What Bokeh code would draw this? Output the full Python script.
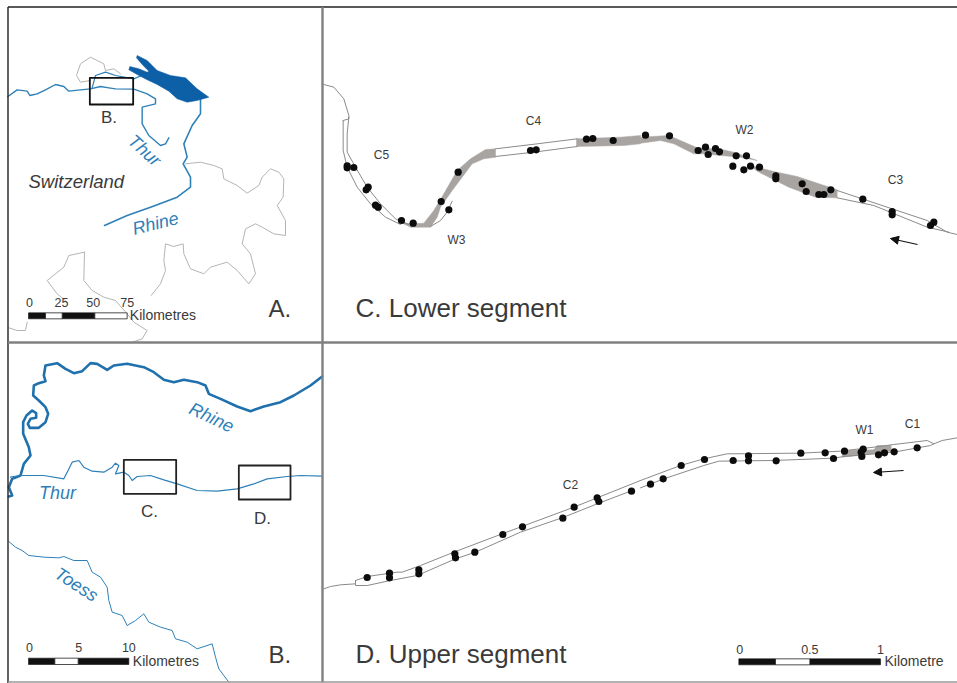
from bokeh.plotting import figure
from bokeh.embed import file_html
from bokeh.resources import INLINE
from bokeh.models import Range1d, Arrow, NormalHead
from bokeh.core.properties import value
from math import radians

A_ORIGIN = (0, 0)
B_ORIGIN = (0, 340)
C_ORIGIN = (320, 70)
C2_ORIGIN = (640, 110)
D_ORIGIN = (320, 480)
D2_ORIGIN = (640, 410)
S_ORIGIN = (700, 630)

a_thur = [(22,288),(50,268),(80,272),(88,285),(110,280),(135,268),(165,252),(190,258),(205,272),(240,268),(270,265),(300,258),(325,262),(345,265),(400,266),(440,280),(465,295),(465,310),(425,320),(425,370),(445,405),(480,435),(495,430),(505,412)]
a_rhine = [(275,262),(285,225),(315,215),(345,225),(400,235),(430,222),(455,228)]
a_rhine2 = [(600,295),(600,340),(575,375),(550,430),(560,470),(548,490),(570,530),(570,560),(530,590),(450,620),(380,645),(312,675)]
a_lake = [(410,165),(440,180),(470,210),(510,225),(555,232),(590,265),(625,290),(590,300),(560,305),(530,295),(505,272),(470,252),(440,238),(410,222),(385,208),(388,198),(415,205),(440,215),(445,212),(425,192),(408,172)]
a_border1 = [(270,240),(240,245),(228,225),(240,190),(270,170),(290,180),(310,190),(315,210),(340,205),(360,220)]
a_border2 = [(555,490),(600,485),(640,495),(665,505),(670,535),(710,555),(740,578),(775,555),(785,530),(810,505),(835,515),(850,535),(848,590),(830,615),(855,660),(855,705),(820,700),(785,680),(765,670),(735,685),(725,730),(750,760),(765,820),(745,850),(710,810),(680,785),(630,800),(610,820),(570,805),(550,760),(548,730),(520,738),(495,730),(490,780),(495,810),(480,850),(452,885)]
a_border3 = [(252,755),(205,765),(190,800),(140,840),(170,880),(200,905)]
a_border4 = [(252,755),(250,840),(275,870),(310,890),(345,900),(380,940),(400,965),(440,990),(425,1015),(395,1025)]
a_border5 = [(25,982),(50,990),(75,990),(80,965)]
a_box = [(268,232),(398,232),(398,312),(268,312),(268,232)]

b_rhine = [(965,108),(930,135),(880,165),(840,185),(790,198),(750,212),(710,198),(660,175),(625,160),(615,135),(590,125),(550,118),(520,125),(490,118),(460,95),(430,80),(380,70),(340,75),(320,88),(290,70),(270,68),(245,92),(220,98),(195,85),(170,68),(135,75),(130,105),(135,122),(115,128),(100,135),(98,165),(115,180),(135,200),(143,220),(135,245),(115,262),(88,262),(82,250),(90,235),(107,232),(107,218),(95,210),(78,225),(68,245),(68,280),(85,320),(90,345),(70,370),(60,405),(35,415),(25,440),(35,465),(25,468)]
b_thur = [(30,410),(60,405),(130,405),(190,415),(200,395),(215,365),(235,360),(250,380),(275,392),(310,395),(335,380),(345,368),(355,375),(345,400),(370,395),(385,405),(395,420),(410,408),(450,405),(490,418),(530,430),(590,450),(650,452),(710,445),(760,430),(800,415),(860,408),(900,405),(965,407)]
b_toess = [(25,603),(45,620),(65,630),(85,645),(130,650),(175,652),(190,648),(220,660),(260,660),(275,695),(300,710),(320,740),(325,780),(335,815),(365,825),(380,855),(405,840),(430,820),(445,845),(480,860),(515,870),(525,895),(560,905),(590,925),(635,910),(645,950),(655,985),(685,1025)]
b_box_c = [(370,358),(527,358),(527,460),(370,460),(370,358)]
b_box_d = [(715,375),(870,375),(870,477),(715,477),(715,375)]

c_inflow = [(10,42),(40,50),(70,85),(85,135),(85,145),(68,150)]
c_edge_r = [(85,140),(80,190),(80,245),(105,290),(140,350),(180,400),(225,445),(265,462)]
c_edge_l = [(68,150),(68,240),(80,290),(110,350),(150,400),(195,440),(240,462)]
c_w3 = [(240,455),(270,460),(310,458),(340,420),(370,370),(410,300),(450,265),(495,237),(525,235),(525,260),(490,265),(455,280),(425,320),(395,360),(360,410),(350,440),(330,470),(270,470)]
c_side = [(330,468),(360,450),(380,425),(395,392)]
c_c4_up = [(525,235),(650,220),(770,205)]
c_c4_lo = [(525,258),(640,245),(770,228)]
c_g1 = [(768,205),(900,200),(960,195),(960,220),(910,225),(768,228)]
c2_g1 = [(0,80),(85,75),(120,90),(170,112),(240,116),(280,125),(350,150),(300,140),(240,135),(190,130),(160,130),(100,100),(60,90),(0,98)]
c2_g2 = [(330,165),(400,183),(470,198),(590,238),(590,262),(525,260),(445,230),(395,205),(350,182)]
c2_up = [(590,240),(860,330),(920,365),(950,372)]
c2_lo = [(590,262),(700,285),(860,350),(925,365)]
c_dots = [(80,286),(80,292),(100,291),(137,358),(143,350),(165,404),(173,410),(243,450),(278,458),(362,393),(385,418),(413,305),(630,240),(647,238),(798,206),(817,204),(878,210)]
c2_dots = [(15,74),(87,76),(173,120),(195,110),(203,132),(225,114),(237,124),(287,136),(318,136),(277,167),(310,178),(330,167),(357,170),(406,196),(406,205),(485,220),(497,243),(535,252),(550,252),(571,238),(667,266),(755,303),(755,313),(880,335),(870,345)]

d_inflow = [(10,325),(30,318),(60,313),(105,310)]
d_up = [(105,300),(140,288),(230,275),(245,275),(300,255),(400,215),(545,160),(760,80),(830,52),(960,0)]
d_lo = [(105,300),(105,315),(140,315),(210,300),(290,285),(405,235),(465,215),(600,155),(730,110),(830,70),(935,30)]
d2_up = [(0,210),(120,165),(190,145),(260,130),(480,128),(600,122),(700,110),(760,102),(860,90),(880,100)]
d2_lo = [(0,232),(70,205),(190,165),(235,152),(400,150),(580,143),(610,138),(760,125),(870,105),(880,100),(905,90),(950,82)]
d2_w1 = [(605,120),(700,118),(710,105),(752,105),(752,122),(700,130),(605,140)]
d_dots = [(140,291),(207,278),(207,292),(295,268),(295,280),(403,220),(405,232),(463,215),(547,162),(606,139),(727,113),(761,80),(830,52),(835,63),(933,32)]
d2_dots = [(30,221),(68,205),(122,165),(192,147),(278,150),(324,136),(324,151),(407,151),(481,128),(554,127),(579,144),(612,122),(668,116),(662,125),(664,138),(714,133),(732,127),(761,124),(830,112)]

scale_a_ticks = ["0", "25", "50", "75"]
scale_a_tick_x = [87, 183, 278, 380]
scale_a_black = [(84,135),(185,283)]
scale_a_white = [(135,185),(283,380)]
scale_b_ticks = ["0", "5", "10"]
scale_b_tick_x = [87, 235, 385]
scale_b_black = [(84,163),(233,385)]
scale_b_white = [(163,233)]
scale_d_ticks = ["0", "0.5", "1"]
scale_d_tick_x = [118, 328, 540]
scale_d_black = [(115,225),(328,540)]
scale_d_white = [(225,328)]

BLUE = "#2e80b8"
RHINE = "#1f70ad"
LAKE = "#0d5fa6"
GREY = "#b4b4b4"
EDGE = "#8a8a8a"
FILL = "#a8a4a2"
INK = "#3a3a3a"
FONT = "Liberation Sans"


def pts(seq, origin):
    return [origin[0] + x / 3 for x, _ in seq], [origin[1] + y / 3 for _, y in seq]


p = figure(width=957, height=683, output_backend="svg", toolbar_location=None,
           x_range=Range1d(0, 957), y_range=Range1d(683, 0),
           x_axis_type=None, y_axis_type=None, min_border=0,
           outline_line_color=None, background_fill_color="white")
p.grid.visible = False


def line(seq, origin, color, width):
    xs, ys = pts(seq, origin)
    p.line(xs, ys, line_color=color, line_width=width, line_join="round", line_cap="round")


def patch(seq, origin, color):
    xs, ys = pts(seq, origin)
    p.patch(xs, ys, fill_color=color, line_color=color, line_width=0.5)


def dots(seq, origin):
    xs, ys = pts(seq, origin)
    p.scatter(xs, ys, size=7.2, fill_color="#0c0c0c", line_color=None)


def label(x, y, txt, size, color=INK, style="normal", angle=0, align="left"):
    p.text([x], [y], text=[txt], text_font=value(FONT), text_font_size=f"{size}px",
           text_font_style=style, text_color=color, text_align=align,
           text_baseline="middle", angle=radians(angle))


def scale_bar(origin, y0, y1, black, white, ticks, tick_x, tick_y, unit, unit_x, unit_y):
    ox, oy = origin
    top, bottom = oy + y0 / 3, oy + y1 / 3
    for (a, b) in black:
        p.quad(left=[ox + a / 3], right=[ox + b / 3], top=[top], bottom=[bottom],
               fill_color="#111111", line_color="#111111", line_width=0.6)
    for (a, b) in white:
        p.quad(left=[ox + a / 3], right=[ox + b / 3], top=[top], bottom=[bottom],
               fill_color="white", line_color="#222222", line_width=0.8)
    for t, x in zip(ticks, tick_x):
        label(ox + x / 3, oy + tick_y / 3, t, 12.5, align="center")
    label(ox + unit_x / 3, oy + unit_y / 3, unit, 14)


# Panel A
for b in (a_border1, a_border2, a_border3, a_border4, a_border5):
    line(b, A_ORIGIN, GREY, 1)
line(a_thur, A_ORIGIN, BLUE, 1.4)
line(a_rhine, A_ORIGIN, BLUE, 1.2)
line(a_rhine2, A_ORIGIN, BLUE, 1.6)
patch(a_lake, A_ORIGIN, LAKE)
line(a_box, A_ORIGIN, "#111111", 1.8)
label(108.5, 117, "B.", 17, align="center")
label(144, 150, "Thur", 18, BLUE, "italic", -42, "center")
label(155, 223, "Rhine", 18, BLUE, "italic", 14, "center")
label(28, 181, "Switzerland", 18.5, INK, "italic")
label(268, 308, "A.", 24)
scale_bar(A_ORIGIN, 937, 955, scale_a_black, scale_a_white, scale_a_ticks, scale_a_tick_x, 905, "Kilometres", 388, 942)

# Panel B
line(b_rhine, B_ORIGIN, RHINE, 2.6)
line(b_thur, B_ORIGIN, BLUE, 1.2)
line(b_toess, B_ORIGIN, BLUE, 1)
line(b_box_c, B_ORIGIN, "#222222", 1.8)
line(b_box_d, B_ORIGIN, "#222222", 1.8)
label(149, 511, "C.", 17, align="center")
label(262, 518, "D.", 17, align="center")
label(57, 492, "Thur", 18, BLUE, "italic", 0, "center")
label(211, 417, "Rhine", 18, BLUE, "italic", -25, "center")
label(76, 584, "Toess", 18, BLUE, "italic", -33, "center")
label(268, 654, "B.", 24)
scale_bar(B_ORIGIN, 953, 972, scale_b_black, scale_b_white, scale_b_ticks, scale_b_tick_x, 922, "Kilometres", 397, 960)

# Panel C
for g in (c_w3, c_g1):
    patch(g, C_ORIGIN, FILL)
for g in (c2_g1, c2_g2):
    patch(g, C2_ORIGIN, FILL)
for e in (c_inflow, c_edge_r, c_edge_l, c_side, c_c4_up, c_c4_lo):
    line(e, C_ORIGIN, EDGE, 1)
for e in (c2_up, c2_lo):
    line(e, C2_ORIGIN, EDGE, 1)
dots(c_dots, C_ORIGIN)
dots(c2_dots, C2_ORIGIN)
label(381, 154, "C5", 12, align="center")
label(533, 120.5, "C4", 12, align="center")
label(456, 239, "W3", 12, align="center")
label(744, 129, "W2", 12, align="center")
label(895, 179, "C3", 12, align="center")
label(355, 307, "C. Lower segment", 26)
p.add_layout(Arrow(end=NormalHead(size=8, fill_color="#111111", line_color="#111111"),
                   x_start=917, y_start=244, x_end=890, y_end=238,
                   line_color="#111111", line_width=1.2))

# Panel D
line(d_inflow, D_ORIGIN, EDGE, 1)
patch(d2_w1, D2_ORIGIN, FILL)
line(d_up, D_ORIGIN, EDGE, 1)
line(d_lo, D_ORIGIN, EDGE, 1)
line(d2_up, D2_ORIGIN, EDGE, 1)
line(d2_lo, D2_ORIGIN, EDGE, 1)
dots(d_dots, D_ORIGIN)
dots(d2_dots, D2_ORIGIN)
label(570, 484, "C2", 12, align="center")
label(864, 429, "W1", 12, align="center")
label(912, 423, "C1", 12, align="center")
label(355, 653, "D. Upper segment", 26)
p.add_layout(Arrow(end=NormalHead(size=8, fill_color="#111111", line_color="#111111"),
                   x_start=903, y_start=470, x_end=873, y_end=472,
                   line_color="#111111", line_width=1.2))
scale_bar(S_ORIGIN, 85, 103, scale_d_black, scale_d_white, scale_d_ticks, scale_d_tick_x, 58, "Kilometre", 552, 90)

# Panel frame
p.line([7.5, 7.5], [6.5, 683], line_color="#222222", line_width=1.4)
p.line([7.5, 957], [6.5, 6.5], line_color="#222222", line_width=1.4)
p.line([322, 322], [6.5, 682], line_color="#808080", line_width=2.4)
p.line([7.5, 957], [342, 342], line_color="#808080", line_width=2.4)
p.line([7.5, 957], [681.5, 681.5], line_color="#999999", line_width=1.6)

open("out.html", "w").write(file_html(p, INLINE))
